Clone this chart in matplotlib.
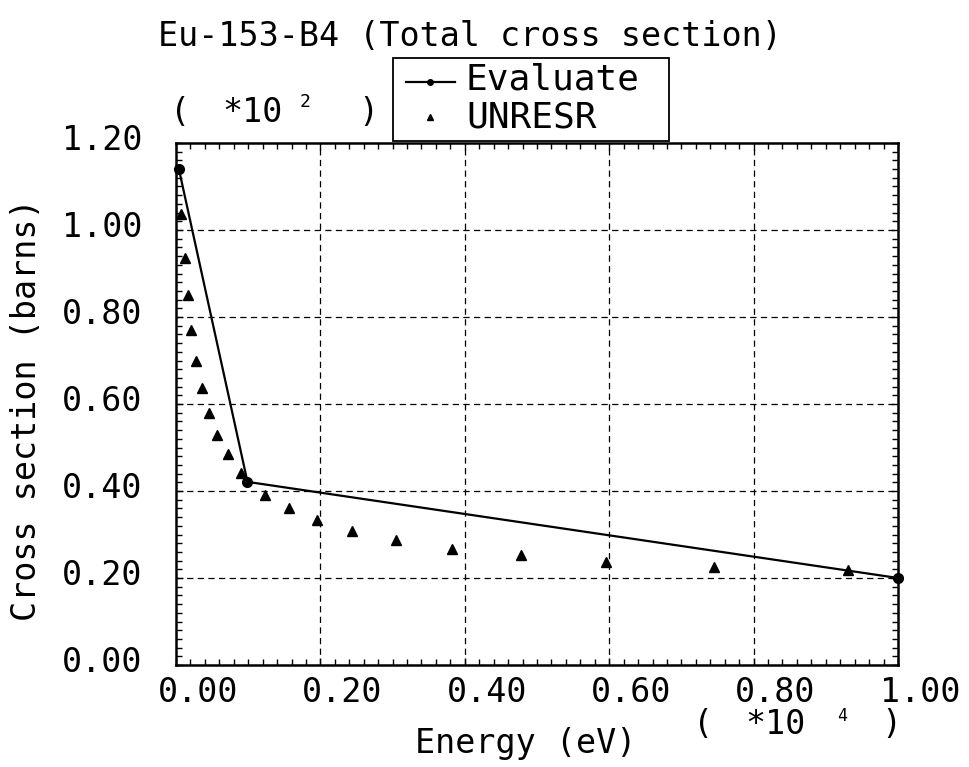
import matplotlib
matplotlib.use("Agg")
import matplotlib.pyplot as plt
from matplotlib.transforms import ScaledTranslation
from matplotlib.patches import Rectangle
from matplotlib.lines import Line2D
from matplotlib.ticker import MultipleLocator

plt.rcParams['font.family'] = ['DejaVu Sans Mono', 'DejaVu Sans']

# ---- data (energy in units of 1e4 eV, cross section in units of 1e2 barns)
eval_x = [0.004, 0.099, 1.000]
eval_y = [1.140, 0.421, 0.200]

unresr_x = [0.0065, 0.012, 0.0167, 0.021, 0.028, 0.036, 0.0456, 0.057, 0.0726,
            0.0899, 0.1236, 0.156, 0.195, 0.2435, 0.305, 0.382, 0.478, 0.596,
            0.745, 0.931]
unresr_y = [1.036, 0.936, 0.850, 0.770, 0.700, 0.637, 0.579, 0.529, 0.484,
            0.442, 0.391, 0.360, 0.333, 0.309, 0.287, 0.267, 0.253, 0.237,
            0.226, 0.218]

x_ticks = [0.0, 0.2, 0.4, 0.6, 0.8, 1.0]
x_ticklabels = ["0.00", "0.20", "0.40", "0.60", "0.80", "1.00"]
y_ticks = [0.0, 0.2, 0.4, 0.6, 0.8, 1.0, 1.2]
y_ticklabels = ["0.00", "0.20", "0.40", "0.60", "0.80", "1.00", "1.20"]

title = "Eu-153-B4 (Total cross section)"
xlabel = "Energy (eV)"
ylabel = "Cross section (barns)"
legend_labels = ["Evaluate", "UNRESR"]

W, H = 970, 767
fig = plt.figure(figsize=(W / 100, H / 100), dpi=100)


def fp(px, py):
    return px / W, 1 - py / H


L, R, T, B = 176, 898, 143, 665
ax = fig.add_axes([L / W, 1 - B / H, (R - L) / W, (B - T) / H])

ax.plot(eval_x, eval_y, color='black', lw=1.6, marker='o', ms=7,
        clip_on=False, zorder=3)
ax.plot(unresr_x, unresr_y, ls='none', color='black', marker='^', ms=6.5,
        zorder=3)

ax.set_xlim(0, 1.0)
ax.set_ylim(0, 1.2)
ax.set_xticks(x_ticks)
ax.set_xticklabels(x_ticklabels)
ax.set_yticks(y_ticks)
ax.set_yticklabels(y_ticklabels)
ax.xaxis.set_minor_locator(MultipleLocator(0.02))
ax.yaxis.set_minor_locator(MultipleLocator(0.02))
ax.tick_params(which='both', direction='in', top=True, right=True,
               width=1.0, color='black')
ax.tick_params(which='major', length=5, labelsize=24, pad=8)
ax.tick_params(which='minor', length=4)
ax.tick_params(axis='y', which='major', pad=24)
for sp in ax.spines.values():
    sp.set_linewidth(1.8)

# dashed grid at interior major ticks
for xv in x_ticks[1:-1]:
    ax.axvline(xv, color='black', lw=0.9, ls=(0, (5, 3.5)), zorder=1)
for yv in y_ticks[1:-1]:
    ax.axhline(yv, color='black', lw=0.9, ls=(0, (5, 3.5)), zorder=1)

# shift tick labels as in the reference
for lab in ax.get_xticklabels():
    lab.set_transform(lab.get_transform() +
                      ScaledTranslation(22 / 100, 0, fig.dpi_scale_trans))
for lab in ax.get_yticklabels():
    lab.set_transform(lab.get_transform() +
                      ScaledTranslation(0, 6 / 100, fig.dpi_scale_trans))

# title and axis labels
fig.text(*fp(470, 36), title, ha='center', va='center', fontsize=24)
fig.text(*fp(526, 743), xlabel, ha='center', va='center', fontsize=24)
fig.text(*fp(27, 410), ylabel, ha='center', va='center', fontsize=24,
         rotation=90)

# multipliers
fig.text(*fp(180, 112), "(", ha='center', va='center', fontsize=24)
fig.text(*fp(252, 112), "*10", ha='center', va='center', fontsize=24)
fig.text(*fp(305, 102), "2", ha='center', va='center', fontsize=13)
fig.text(*fp(368, 112), ")", ha='center', va='center', fontsize=24)

fig.text(*fp(703, 725), "(", ha='center', va='center', fontsize=24)
fig.text(*fp(775, 725), "*10", ha='center', va='center', fontsize=24)
fig.text(*fp(842, 716), "4", ha='center', va='center', fontsize=12)
fig.text(*fp(891, 725), ")", ha='center', va='center', fontsize=24)

# legend box drawn manually
x0, y0 = fp(393, 141)
x1, y1 = fp(669, 58)
fig.patches.append(Rectangle((x0, y0), x1 - x0, y1 - y0,
                             transform=fig.transFigure, fill=False,
                             ec='black', lw=1.3))
lx0, ly = fp(406, 82)
lx1, _ = fp(455, 82)
fig.lines.append(Line2D([lx0, lx1], [ly, ly], transform=fig.transFigure,
                        color='black', lw=1.6))
mx, my = fp(430, 82)
fig.lines.append(Line2D([mx], [my], transform=fig.transFigure, color='black',
                        marker='o', ms=4, ls='none'))
fig.text(*fp(466, 80), legend_labels[0], ha='left', va='center', fontsize=26)
tx, ty = fp(430, 117)
fig.lines.append(Line2D([tx], [ty], transform=fig.transFigure, color='black',
                        marker='^', ms=4, ls='none'))
fig.text(*fp(466, 118), legend_labels[1], ha='left', va='center', fontsize=26)

fig.savefig("out.png", dpi=100)
